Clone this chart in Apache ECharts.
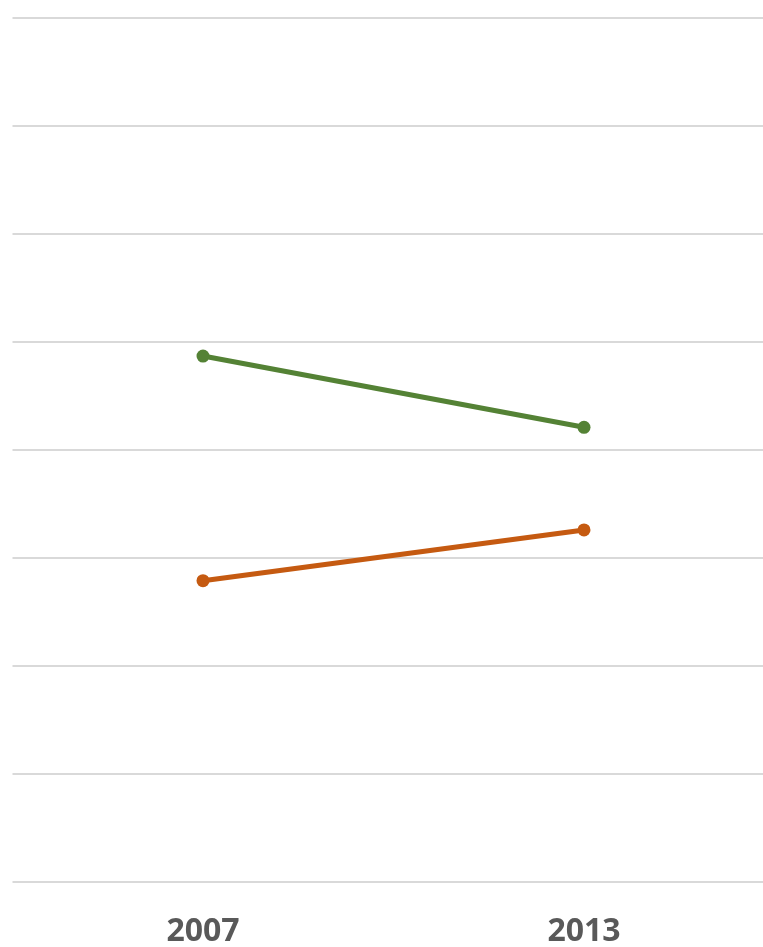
<!DOCTYPE html>
<html>
<head>
<meta charset="utf-8">
<script src="https://cdn.jsdelivr.net/npm/echarts@6/dist/echarts.min.js"></script>
<style>html,body{margin:0;padding:0;background:#fff;}#c{width:763px;height:947px;}</style>
</head>
<body>
<div id="c"></div>
<script>
const categories = ['2007', '2013'];
const greenValues = [48.7, 42.1];
const orangeValues = [27.9, 32.6];
const yMin = 0, yMax = 80, yInterval = 10;

const chart = echarts.init(document.getElementById('c'));
chart.setOption({
  animation: false,
  backgroundColor: '#ffffff',
  grid: { left: 12.5, width: 762, top: 18, bottom: 65, containLabel: false, outerBoundsMode: 'none' },
  xAxis: {
    type: 'category',
    data: categories,
    axisLine: { show: false },
    axisTick: { show: false },
    axisLabel: { color: '#595959', fontSize: 32, fontWeight: 'bold', fontFamily: 'Open Sans', margin: 34 }
  },
  yAxis: {
    type: 'value', min: yMin, max: yMax, interval: yInterval,
    axisLabel: { show: false },
    axisLine: { show: false },
    axisTick: { show: false },
    splitLine: { lineStyle: { color: '#d9d9d9', width: 2 } }
  },
  series: [
    { type: 'line', data: greenValues, symbol: 'circle', symbolSize: 13,
      lineStyle: { color: '#548235', width: 5 }, itemStyle: { color: '#548235' } },
    { type: 'line', data: orangeValues, symbol: 'circle', symbolSize: 13,
      lineStyle: { color: '#C55A11', width: 5 }, itemStyle: { color: '#C55A11' } }
  ]
});
</script>
</body>
</html>
